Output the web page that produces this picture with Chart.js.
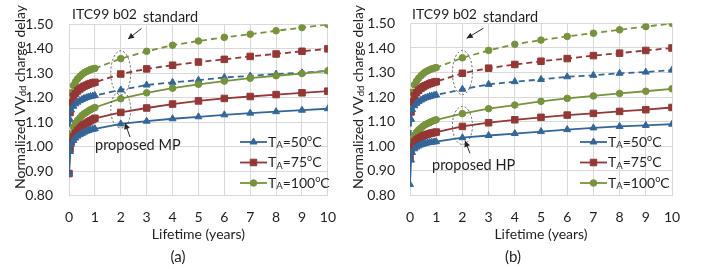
<!DOCTYPE html>
<html>
<head>
<meta charset="utf-8">
<script src="https://cdn.jsdelivr.net/npm/chart.js@4"></script>
<style>
  body { margin: 0; background: #fff; }
  #wrap { position: relative; width: 701px; height: 269px; }
  canvas { position: absolute; top: 0; }
</style>
</head>
<body>
<div id="wrap">
  <canvas id="chartA" width="350" height="269" style="left:0"></canvas>
  <canvas id="chartB" width="351" height="269" style="left:350px"></canvas>
</div>
<script>
// lifetime points (years) - dense in first year
const years = [0, 0.04, 0.08, 0.17, 0.25, 0.33, 0.42, 0.5, 0.58, 0.67, 0.75, 0.83, 0.92, 1, 2, 3, 4, 5, 6, 7, 8, 9, 10];

// standard (dashed) - same in both panels
const stdBlue  = [1.00, 1.11, 1.15, 1.165, 1.175, 1.182, 1.188, 1.193, 1.197, 1.200, 1.203, 1.205, 1.207, 1.209, 1.232, 1.252, 1.263, 1.272, 1.283, 1.289, 1.297, 1.302, 1.31];
const stdRed   = [1.00, 1.14, 1.18, 1.205, 1.218, 1.228, 1.236, 1.242, 1.247, 1.251, 1.255, 1.258, 1.261, 1.263, 1.297, 1.318, 1.333, 1.346, 1.357, 1.369, 1.379, 1.39, 1.40];
const stdGreen = [1.00, 1.17, 1.22, 1.25, 1.265, 1.277, 1.287, 1.295, 1.302, 1.307, 1.311, 1.315, 1.318, 1.32, 1.36, 1.39, 1.415, 1.432, 1.447, 1.46, 1.474, 1.487, 1.50];

// proposed MP (panel a)
const mpBlue  = [0.89, 0.98, 1.01, 1.025, 1.035, 1.043, 1.049, 1.054, 1.059, 1.063, 1.066, 1.069, 1.071, 1.073, 1.093, 1.104, 1.114, 1.122, 1.13, 1.137, 1.143, 1.149, 1.155];
const mpRed   = [0.89, 0.99, 1.02, 1.04, 1.055, 1.066, 1.075, 1.083, 1.09, 1.096, 1.101, 1.106, 1.111, 1.116, 1.14, 1.158, 1.174, 1.187, 1.197, 1.205, 1.213, 1.22, 1.227];
const mpGreen = [0.89, 1.02, 1.05, 1.08, 1.095, 1.107, 1.118, 1.127, 1.134, 1.14, 1.146, 1.151, 1.156, 1.16, 1.196, 1.22, 1.239, 1.255, 1.268, 1.28, 1.29, 1.299, 1.31];

// proposed HP (panel b)
const hpBlue  = [0.845, 0.944, 0.975, 0.99, 0.997, 1.002, 1.006, 1.009, 1.012, 1.014, 1.016, 1.017, 1.018, 1.019, 1.035, 1.044, 1.052, 1.06, 1.068, 1.075, 1.081, 1.085, 1.09];
const hpRed   = [0.956, 0.985, 1.0, 1.018, 1.026, 1.032, 1.037, 1.042, 1.046, 1.049, 1.052, 1.054, 1.056, 1.058, 1.081, 1.096, 1.108, 1.118, 1.127, 1.134, 1.142, 1.149, 1.158];
const hpGreen = [1.00, 1.01, 1.025, 1.045, 1.057, 1.067, 1.075, 1.082, 1.088, 1.093, 1.097, 1.101, 1.105, 1.108, 1.133, 1.153, 1.168, 1.183, 1.195, 1.205, 1.215, 1.224, 1.234];

const tempLabels = ['50', '75', '100'];
const yMin = 0.8, yMax = 1.5, yStep = 0.1;
const xMin = 0, xMax = 10;

const colors = ['#33669a', '#953735', '#77933c'];
const styles = ['triangle', 'rect', 'circle'];
const radii = [4, 4.6, 3.3];
const FONT = 'Lato, "Open Sans", sans-serif';
const TXT = '#1f1f1f';

function pts(vals) {
  return years.map((t, i) => ({ x: t, y: vals[i] }));
}

function series(vals, k, dashed) {
  return {
    data: pts(vals),
    borderColor: colors[k],
    backgroundColor: colors[k],
    borderWidth: 1.8,
    borderDash: dashed ? [6, 4] : [],
    pointStyle: styles[k],
    pointRadius: radii[k],
    pointBorderWidth: 1,
    tension: 0
  };
}

function rich(ctx, parts, x, y, draw) {
  let cx = x;
  for (const [t, size, dy] of parts) {
    ctx.font = size + 'px ' + FONT;
    if (draw) ctx.fillText(t, cx, y + dy);
    cx += ctx.measureText(t).width;
  }
  return cx - x;
}

function arrow(ctx, x1, y1, x2, y2) {
  ctx.save();
  ctx.strokeStyle = '#262626';
  ctx.fillStyle = '#262626';
  ctx.lineWidth = 1;
  ctx.setLineDash([]);
  ctx.beginPath();
  ctx.moveTo(x1, y1);
  ctx.lineTo(x2, y2);
  ctx.stroke();
  const a = Math.atan2(y2 - y1, x2 - x1);
  ctx.beginPath();
  ctx.moveTo(x2, y2);
  ctx.lineTo(x2 - 6 * Math.cos(a) + 3 * Math.sin(a), y2 - 6 * Math.sin(a) - 3 * Math.cos(a));
  ctx.lineTo(x2 - 6 * Math.cos(a) - 3 * Math.sin(a), y2 - 6 * Math.sin(a) + 3 * Math.cos(a));
  ctx.closePath();
  ctx.fill();
  ctx.restore();
}

function ellipse(ctx, cx, cy, rx, ry) {
  ctx.save();
  ctx.strokeStyle = '#595959';
  ctx.lineWidth = 1;
  ctx.setLineDash([2, 2]);
  ctx.beginPath();
  ctx.ellipse(cx, cy, rx, ry, 0, 0, Math.PI * 2);
  ctx.stroke();
  ctx.restore();
}

function makeChart(id, solid, cfg) {
  const extras = {
    id: 'extras',
    afterDraw(chart) {
      const ctx = chart.ctx;
      const xs = chart.scales.x, ys = chart.scales.y;
      const ca = chart.chartArea;
      ctx.save();
      ctx.fillStyle = TXT;
      ctx.textBaseline = 'middle';

      // y title with subscript
      const yParts = [['Normalized VV', 14, 0], ['dd', 9.5, 3], [' charge delay', 14, 0]];
      ctx.save();
      ctx.translate(cfg.yTitleX, 97);
      ctx.rotate(-Math.PI / 2);
      const w = rich(ctx, yParts, 0, 0, false);
      rich(ctx, yParts, -w / 2, 0, true);
      ctx.restore();

      // x title and panel label
      ctx.textAlign = 'center';
      ctx.font = '14px ' + FONT;
      ctx.fillText('Lifetime (years)', (ca.left + ca.right) / 2, 234);
      ctx.font = '15px ' + FONT;
      ctx.fillText(cfg.panel, cfg.panelX, 257);
      ctx.textAlign = 'left';

      // annotations
      ctx.font = '14px ' + FONT;
      ctx.fillText('ITC99 b02', ca.left + cfg.itcDx, 14);
      ctx.font = '14.5px ' + FONT;
      ctx.fillText('standard', cfg.stdX, 17);
      ctx.fillText(cfg.propText, cfg.propX, cfg.propY);

      const x2 = xs.getPixelForValue(2);
      ellipse(ctx, x2, ys.getPixelForValue(cfg.upperC), 10, 22);
      ellipse(ctx, x2, ys.getPixelForValue(cfg.lowerC), 10, cfg.lowerR);
      arrow(ctx, cfg.arr1[0], cfg.arr1[1], cfg.arr1[2], cfg.arr1[3]);
      arrow(ctx, cfg.arr2[0], cfg.arr2[1], cfg.arr2[2], cfg.arr2[3]);

      // legend
      for (let k = 0; k < 3; k++) {
        const ly = 142 + k * 20.5;
        const lx = cfg.legX;
        ctx.strokeStyle = colors[k];
        ctx.fillStyle = colors[k];
        ctx.lineWidth = 1.8;
        ctx.setLineDash([]);
        ctx.beginPath();
        ctx.moveTo(lx, ly);
        ctx.lineTo(lx + 27, ly);
        ctx.stroke();
        ctx.lineWidth = 1;
        Chart.helpers.drawPoint(ctx, { pointStyle: styles[k], radius: radii[k], borderWidth: 1, rotation: 0 }, lx + 13.5, ly);
        ctx.fillStyle = TXT;
        rich(ctx, [['T', 14, 0], ['A', 9.5, 3], ['=' + tempLabels[k], 14, 0], ['o', 9, -4], ['C', 14, 0]], lx + 28, ly, true);
      }
      ctx.restore();
    }
  };

  return new Chart(document.getElementById(id), {
    type: 'line',
    data: {
      datasets: [
        series(solid[0], 0, false),
        series(solid[1], 1, false),
        series(solid[2], 2, false),
        series(stdBlue, 0, true),
        series(stdRed, 1, true),
        series(stdGreen, 2, true)
      ]
    },
    options: {
      responsive: false,
      devicePixelRatio: 1,
      animation: false,
      layout: { padding: { left: 0, right: cfg.rightPad, top: 0, bottom: 0 } },
      plugins: { legend: { display: false }, tooltip: { enabled: false } },
      scales: {
        x: {
          type: 'linear',
          min: xMin,
          max: xMax,
          afterFit: s => { s.height = 73.5; },
          ticks: { stepSize: 1, padding: 14, color: TXT, font: { family: FONT, size: 14 } },
          grid: { color: '#d9d9d9', drawTicks: false },
          border: { color: '#d9d9d9' }
        },
        y: {
          min: yMin,
          max: yMax,
          afterFit: s => { s.width = cfg.plotLeft; },
          ticks: { stepSize: yStep, padding: cfg.yPad, color: TXT, font: { family: FONT, size: 14 },
                   callback: v => v.toFixed(2) },
          grid: { color: '#d9d9d9', drawTicks: false },
          border: { color: '#d9d9d9' }
        }
      }
    },
    plugins: [extras]
  });
}

makeChart('chartA', [mpBlue, mpRed, mpGreen], {
  plotLeft: 69, rightPad: 17, yPad: 16, yTitleX: 20,
  panel: '(a)', panelX: 178, itcDx: 3, stdX: 143,
  propText: 'proposed MP', propX: 95, propY: 145,
  upperC: 1.302, lowerC: 1.152, lowerR: 18.5,
  arr1: [141.5, 28.5, 128, 39], arr2: [130, 137, 125, 123],
  legX: 240
});

makeChart('chartB', [hpBlue, hpRed, hpGreen], {
  plotLeft: 60, rightPad: 29, yPad: 15, yTitleX: 8,
  panel: '(b)', panelX: 163, itcDx: 2, stdX: 133,
  propText: 'proposed HP', propX: 82, propY: 165,
  upperC: 1.30, lowerC: 1.085, lowerR: 19,
  arr1: [133.3, 28.3, 116.7, 38.3], arr2: [120, 153.3, 115, 140.7],
  legX: 230
});
</script>
</body>
</html>
